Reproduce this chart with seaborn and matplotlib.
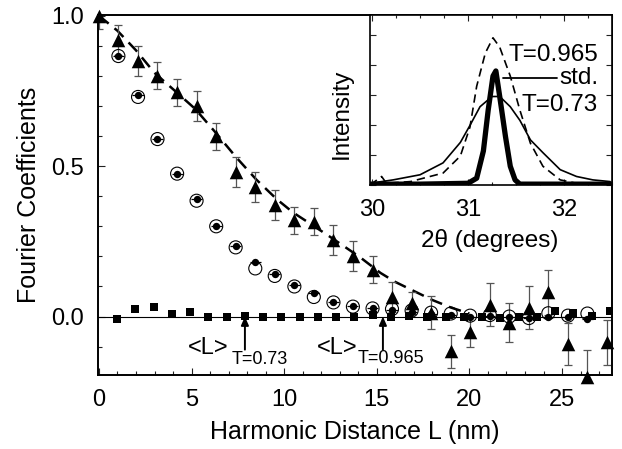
import matplotlib
matplotlib.use("Agg")
import matplotlib.pyplot as plt
from matplotlib.ticker import MultipleLocator, NullFormatter
import seaborn as sns

# --- values ---
# T=0.965 coefficients (filled triangles) with error bars
tri_L = [0.0, 1.05, 2.11, 3.16, 4.22, 5.27, 6.33, 7.38, 8.44, 9.49, 10.55, 11.6, 12.66, 13.71,
         14.77, 15.82, 16.88, 17.93, 18.99, 20.04, 21.1, 22.15, 23.21, 24.26, 25.32, 26.37, 27.43]
tri_v = [1.0, 0.92, 0.85, 0.80, 0.745, 0.70, 0.60, 0.48, 0.43, 0.37, 0.32, 0.315, 0.255, 0.20,
         0.155, 0.065, 0.045, 0.012, -0.115, -0.05, 0.04, -0.02, 0.03, 0.08, -0.09, -0.20, -0.085]
tri_err = [0.045, 0.05, 0.05, 0.045, 0.045, 0.05, 0.045, 0.05, 0.05, 0.05, 0.045, 0.045, 0.05, 0.05,
           0.045, 0.05, 0.035, 0.055, 0.055, 0.05, 0.07, 0.065, 0.07, 0.075, 0.07, 0.09, 0.075]

# T=0.73 coefficients (open circles and small dots)
circ_L = tri_L[1:26]
circ_v = [0.866, 0.73, 0.59, 0.475, 0.385, 0.30, 0.23, 0.16, 0.135, 0.10, 0.065, 0.047, 0.033,
          0.027, 0.025, 0.02, 0.013, 0.01, 0.003, 0.005, 0.0, -0.005, 0.011, 0.003, 0.01]
dot_v = [0.866, 0.735, 0.59, 0.475, 0.39, 0.30, 0.235, 0.18, 0.14, 0.105, 0.077, 0.05, 0.035,
         0.028, 0.022, 0.015, 0.01, 0.005, 0.0, 0.002, -0.002, -0.005, 0.0, 0.0, -0.008]

# standard (filled squares)
sq_L = [0.99, 1.97, 2.96, 3.94, 4.93, 5.91, 6.9, 7.88, 8.87, 9.85, 10.84, 11.82, 12.81, 13.79,
        14.78, 15.76, 16.75, 17.73, 18.72, 19.7, 20.69, 21.67, 22.66, 23.64, 24.63, 25.61, 26.6, 27.58]
sq_v = [-0.008, 0.026, 0.031, 0.009, 0.015, -0.002, 0.0, 0.002, 0.0, 0.0, 0.0, 0.0, 0.0, 0.0,
        0.005, 0.0, 0.002, 0.0, -0.003, 0.0, -0.003, -0.005, -0.003, -0.003, 0.017, 0.012, 0.002, 0.017]

# dashed fit curve
fit_L = [0, 1, 2, 3, 4.2, 5.2, 6.25, 7.4, 8.5, 9.6, 10.5, 11.5, 12.6, 14.1, 15.2, 16, 17, 18, 19, 20]
fit_v = [1.0, 0.95, 0.885, 0.81, 0.745, 0.69, 0.615, 0.53, 0.455, 0.39, 0.345, 0.305, 0.26,
         0.197, 0.145, 0.115, 0.085, 0.055, 0.03, 0.01]

# mean column lengths marked with arrows
mean_L = [7.88, 15.33]

# inset: diffraction profiles
thin_x = [29.98, 30.22, 30.5, 30.74, 30.92, 31.02, 31.125, 31.25, 31.33, 31.44, 31.54, 31.65,
          31.78, 31.96, 32.13, 32.3, 32.48]
thin_y = [0.01, 0.03, 0.06, 0.13, 0.25, 0.35, 0.46, 0.52, 0.52, 0.46, 0.38, 0.265, 0.19, 0.09,
          0.05, 0.03, 0.02]
dash_x = [29.98, 30.1, 30.15, 30.4, 30.74, 30.92, 31.02, 31.09, 31.18, 31.26, 31.33, 31.44, 31.54,
          31.65, 31.78, 31.96, 32.13, 32.3, 32.48]
dash_y = [0.0, 0.05, 0.01, 0.02, 0.07, 0.17, 0.34, 0.58, 0.775, 0.865, 0.81, 0.64, 0.44, 0.245,
          0.11, 0.03, 0.01, 0.01, 0.0]
std_x = [29.98, 30.5, 31.0, 31.09, 31.16, 31.21, 31.26, 31.29, 31.33, 31.39, 31.44, 31.49, 31.54,
         32.0, 32.5]
std_y = [0.005, 0.005, 0.01, 0.04, 0.2, 0.44, 0.64, 0.67, 0.52, 0.285, 0.11, 0.03, 0.005, 0.005, 0.005]

sns.set_style("ticks")
plt.rcParams['font.family'] = ['Liberation Sans', 'DejaVu Sans']
plt.rcParams['text.color'] = 'black'
plt.rcParams['axes.labelcolor'] = 'black'
plt.rcParams['xtick.labelcolor'] = 'black'
plt.rcParams['ytick.labelcolor'] = 'black'

fig = plt.figure(figsize=(6.22, 4.49), dpi=100)
ax = fig.add_axes([0.157, 0.165, 0.827, 0.802])

ax.axhline(0, color='black', lw=0.8, zorder=1)
sns.lineplot(x=fit_L, y=fit_v, ax=ax, color='black', lw=1.8, linestyle=(0, (5, 3)),
             estimator=None, sort=False, zorder=2)

ax.errorbar(tri_L, tri_v, yerr=tri_err, fmt='none', ecolor='#555555', elinewidth=0.9,
            capsize=3, capthick=0.9, zorder=2)
ax.errorbar(circ_L, dot_v, xerr=0.3, fmt='none', ecolor='black', elinewidth=0.9, zorder=3)
ax.scatter(circ_L, circ_v, s=88, facecolors='none', edgecolors='black', linewidths=0.8, zorder=3)
sns.scatterplot(x=circ_L, y=dot_v, ax=ax, marker='o', s=28, color='black', linewidth=0, zorder=4)
sns.scatterplot(x=sq_L, y=sq_v, ax=ax, marker='s', s=32, color='black', linewidth=0, zorder=4)
sns.scatterplot(x=tri_L, y=tri_v, ax=ax, marker='^', s=95, color='black', linewidth=0,
                zorder=5, clip_on=False)

for L in mean_L:
    ax.annotate('', xy=(L, 0.0), xytext=(L, -0.11),
                arrowprops=dict(arrowstyle='-|>,head_length=0.5,head_width=0.22',
                                color='black', lw=1.4, shrinkA=0, shrinkB=0), zorder=6)
ax.text(4.79, -0.105, '<L>', fontsize=17, ha='left', va='center')
ax.text(7.15, -0.142, 'T=0.73', fontsize=13, ha='left', va='center')
ax.text(11.74, -0.105, '<L>', fontsize=17, ha='left', va='center')
ax.text(13.97, -0.14, 'T=0.965', fontsize=13, ha='left', va='center')

ax.set_xlim(-0.07, 27.7)
ax.set_ylim(-0.194, 1.003)
ax.set_xticks([0, 5, 10, 15, 20, 25])
ax.set_yticks([0.0, 0.5, 1.0])
ax.set_yticklabels(['0.0', '0.5', '1.0'])
ax.xaxis.set_minor_locator(MultipleLocator(1))
ax.yaxis.set_minor_locator(MultipleLocator(0.1))
ax.tick_params(which='both', direction='in', top=False, right=False, labelsize=17, pad=10,
               width=0.8, color='#222222')
ax.tick_params(which='major', length=5)
ax.tick_params(which='minor', length=3)
for s in ax.spines.values():
    s.set_linewidth(1.4)
    s.set_color('black')
ax.set_xlabel('Harmonic Distance L (nm)', fontsize=18)
ax.set_ylabel('Fourier Coefficients', fontsize=18)
ax.xaxis.set_label_coords(0.5, -0.125)
ax.yaxis.set_label_coords(-0.11, 0.5)

# inset
ins = fig.add_axes([0.595, 0.588, 0.389, 0.379])
ins.set_facecolor('white')
sns.lineplot(x=thin_x, y=thin_y, ax=ins, color='black', lw=1.2, estimator=None, sort=False)
sns.lineplot(x=dash_x, y=dash_y, ax=ins, color='black', lw=1.2, linestyle=(0, (5, 3)),
             estimator=None, sort=False)
sns.lineplot(x=std_x, y=std_y, ax=ins, color='black', lw=3.8, estimator=None, sort=False)
ins.plot([31.36, 31.93], [0.63, 0.63], color='black', lw=1.3)
ins.text(0.942, 0.765, 'T=0.965', transform=ins.transAxes, fontsize=17.5, ha='right', va='center')
ins.text(0.942, 0.63, 'std.', transform=ins.transAxes, fontsize=17.5, ha='right', va='center')
ins.text(0.942, 0.47, 'T=0.73', transform=ins.transAxes, fontsize=17.5, ha='right', va='center')
ins.set_xlim(29.98, 32.5)
ins.set_ylim(0, 1.0)
ins.set_xticks([30, 31, 32])
ins.xaxis.set_minor_locator(MultipleLocator(0.25))
ins.yaxis.set_major_locator(MultipleLocator(0.176))
ins.yaxis.set_major_formatter(NullFormatter())
ins.tick_params(which='both', direction='in', top=True, right=True, labelsize=17, pad=10,
                width=0.8, color='#222222')
ins.tick_params(which='major', length=4)
ins.tick_params(which='minor', length=2.5)
for s in ins.spines.values():
    s.set_linewidth(1.2)
    s.set_color('black')
ins.set_xlabel('2θ (degrees)', fontsize=17.5)
ins.set_ylabel('Intensity', fontsize=17.5)
ins.xaxis.set_label_coords(0.496, -0.26)
ins.yaxis.set_label_coords(-0.07, 0.42)

fig.savefig('out.png', dpi=100)
